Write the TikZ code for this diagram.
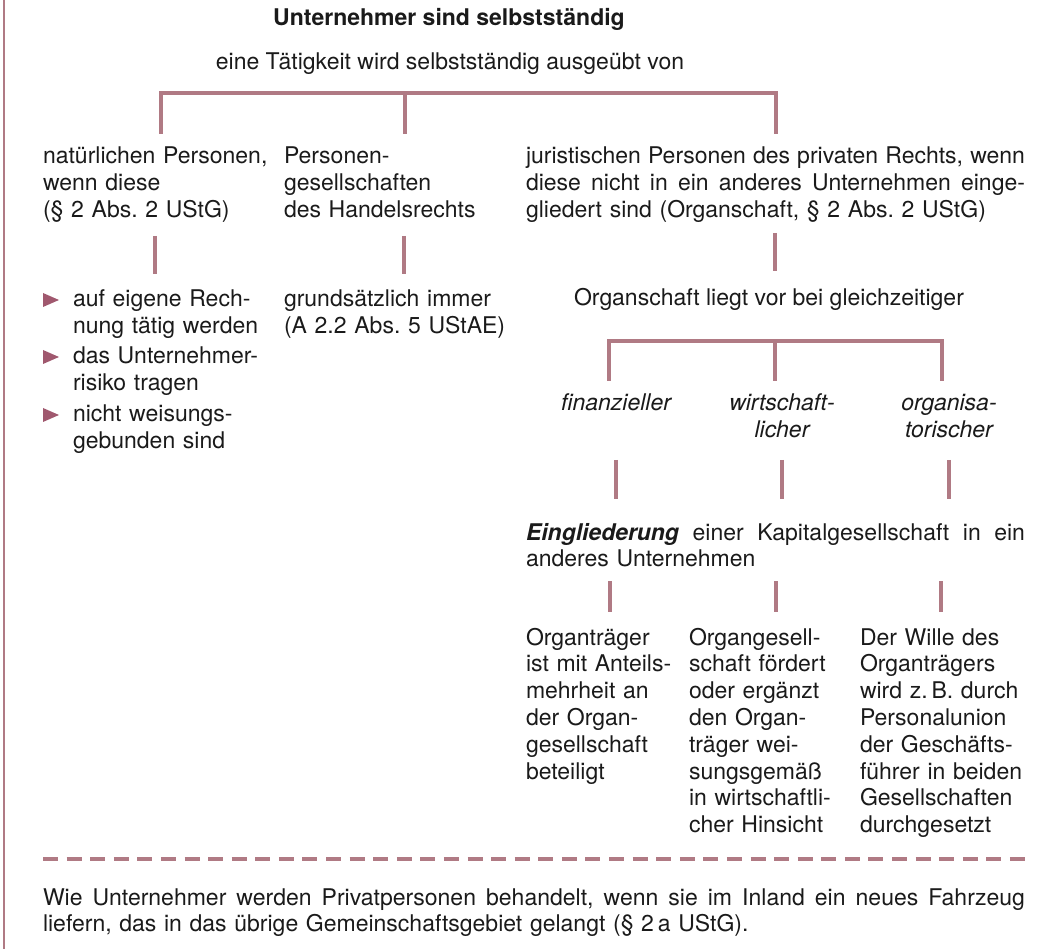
\documentclass[tikz,border=0pt]{standalone}
\usepackage{fontspec}
\setmainfont{TeX Gyre Heros}
\usetikzlibrary{calc}
\definecolor{lineclr}{HTML}{B07A84}
\definecolor{bulclr}{HTML}{A0586E}
\definecolor{txtclr}{HTML}{1A1A1A}
\newcommand{\fsz}{\fontsize{23}{26.8}\selectfont\frenchspacing}
\newcommand{\jline}[2]{\makebox[#1][s]{\spaceskip=0pt\relax #2}}
\begin{document}
\begin{tikzpicture}[x=1pt,y=-1pt,
  conn/.style={draw=lineclr,line width=4pt,line cap=butt,line join=miter},
  txt/.style={inner sep=0pt,outer sep=0pt,anchor=base west,align=left,font=\fsz,text=txtclr},
  single/.style={inner sep=0pt,outer sep=0pt,anchor=base,font=\fsz,text=txtclr},
  lbl/.style={inner sep=0pt,outer sep=0pt,anchor=base,align=center,font=\fsz\itshape,text=txtclr,text width=180pt},
  bul/.style={fill=bulclr}]

\useasboundingbox (0,0) rectangle (1058,949);
\draw[draw=lineclr,line width=2.5pt] (4,0) -- (4,949);

% headings
\node[single,font=\fsz\bfseries] (title) at (449,26) {Unternehmer sind selbstständig};
\node[single] (sub) at (450,70) {eine Tätigkeit wird selbstständig ausgeübt von};

% top bracket
\coordinate (tl) at (161,93); \coordinate (tm) at (405,93); \coordinate (tr) at (776,93);
\coordinate (ta) at (161,134); \coordinate (tb) at (405,134); \coordinate (tc) at (776,134);
\draw[conn] (ta) -- (tl) -- (tr) -- (tc);
\draw[conn] (tm) -- (tb);

% three columns
\node[txt,text width=240pt] (np) at (43,164) {natürlichen Personen,\\wenn diese\\(§ 2 Abs. 2 UStG)};
\node[txt,text width=230pt] (pg) at (284,164) {Personen-\\gesellschaften\\des Handelsrechts};
\node[txt,text width=499pt] (jp) at (526,164) {\jline{499pt}{juristischen Personen des privaten Rechts, wenn}\\\jline{499pt}{diese nicht in ein anderes Unternehmen einge-}\\gliedert sind (Organschaft, § 2 Abs. 2 UStG)};

% drops
\coordinate (d1a) at (155,236); \coordinate (d1b) at (155,274);
\coordinate (d2a) at (404,236); \coordinate (d2b) at (404,274);
\coordinate (d3a) at (775,233); \coordinate (d3b) at (775,271);
\draw[conn] (d1a) -- (d1b);
\draw[conn] (d2a) -- (d2b);
\draw[conn] (d3a) -- (d3b);

% bullets
\node[txt,text width=220pt] (b1) at (73,307) {auf eigene Rech-\\nung tätig werden};
\node[txt,text width=220pt] (b2) at (73,364) {das Unternehmer-\\risiko tragen};
\node[txt,text width=220pt] (b3) at (73,422) {nicht weisungs-\\gebunden sind};
\foreach \b in {b1,b2,b3}{
  \fill[bul] ($(\b.base west)+(-30,-14)$) -- ++(16,7) -- ++(-16,7) -- cycle;
}

\node[txt,text width=230pt] (gi) at (284,307) {grundsätzlich immer\\(A 2.2 Abs. 5 UStAE)};
\node[single] (ol) at (769,306) {Organschaft liegt vor bei gleichzeitiger};

% second bracket
\coordinate (sl) at (609,341); \coordinate (sm) at (775,341); \coordinate (sr) at (942,341);
\coordinate (sa) at (609,381); \coordinate (sb) at (775,381); \coordinate (sc) at (942,381);
\draw[conn] (sa) -- (sl) -- (sr) -- (sc);
\draw[conn] (sm) -- (sb);

\node[lbl] (fi) at (616,411) {finanzieller};
\node[lbl] (wi) at (782,411) {wirtschaft-\\licher};
\node[lbl] (og) at (949,411) {organisa-\\torischer};

\coordinate (e1a) at (616,460); \coordinate (e1b) at (616,499);
\coordinate (e2a) at (782,460); \coordinate (e2b) at (782,499);
\coordinate (e3a) at (949,460); \coordinate (e3b) at (949,499);
\draw[conn] (e1a) -- (e1b);
\draw[conn] (e2a) -- (e2b);
\draw[conn] (e3a) -- (e3b);

\node[txt,text width=499pt] (ei) at (526,540) {\jline{499pt}{\textbf{\textit{Eingliederung}} einer Kapitalgesellschaft in ein}\\anderes Unternehmen};

\coordinate (f1a) at (610,581); \coordinate (f1b) at (610,612);
\coordinate (f2a) at (775.5,581); \coordinate (f2b) at (775.5,612);
\coordinate (f3a) at (941,581); \coordinate (f3b) at (941,612);
\draw[conn] (f1a) -- (f1b);
\draw[conn] (f2a) -- (f2b);
\draw[conn] (f3a) -- (f3b);

\node[txt,text width=160pt] (oa) at (526,645) {Organträger\\ist mit Anteils-\\mehrheit an\\der Organ-\\gesellschaft\\beteiligt};
\node[txt,text width=168pt] (ob) at (689,645) {Organgesell-\\schaft fördert\\oder ergänzt\\den Organ-\\träger wei-\\sungsgemäß\\in wirtschaftli-\\cher Hinsicht};
\node[txt,text width=180pt] (oc) at (860,645) {Der Wille des\\Organträgers\\wird z.\,B. durch\\Personalunion\\der Geschäfts-\\führer in beiden\\Gesellschaften\\durchgesetzt};

% dashed separator
\coordinate (da) at (43,859); \coordinate (db) at (1025,859);
\draw[draw=lineclr,line width=4.5pt,dash pattern=on 15pt off 8.585pt] (da) -- (db);

\node[txt,text width=982pt] (ft) at (43,905) {\jline{982pt}{Wie Unternehmer werden Privatpersonen behandelt, wenn sie im Inland ein neues Fahrzeug}\\liefern, das in das übrige Gemeinschaftsgebiet gelangt (§ 2\,a UStG).};
\end{tikzpicture}
\end{document}
